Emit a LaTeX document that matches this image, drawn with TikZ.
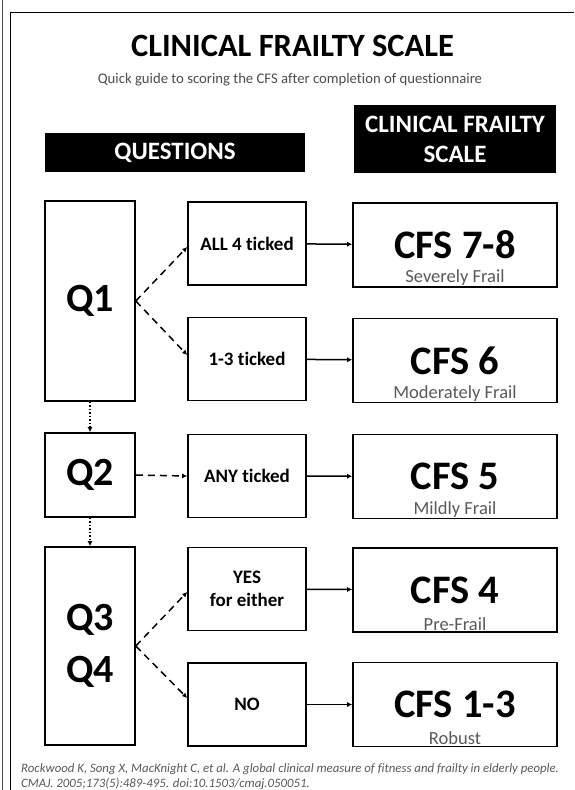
\documentclass[tikz,border=0pt]{standalone}
\usepackage{fontspec}
\setmainfont[Ligatures=NoCommon]{Carlito}
\usetikzlibrary{arrows.meta}

\tikzset{
  qbox/.style={draw, line width=1.6pt, minimum width=90pt, inner sep=0pt, align=center,
    font=\bfseries\fontsize{40}{52}\selectfont},
  tickbox/.style={draw, line width=1.6pt, minimum width=118pt, minimum height=83pt, inner sep=0pt,
    align=center, font=\bfseries\fontsize{19}{23}\selectfont},
  cfsbox/.style={draw, line width=1.6pt, minimum width=204pt, minimum height=84pt, inner sep=0pt,
    font=\bfseries\fontsize{40.5}{42}\selectfont},
  subtxt/.style={above, inner sep=2pt, text=black!65, font=\fontsize{18.5}{20}\selectfont},
  headbox/.style={fill=black, text=white, inner sep=0pt, align=center,
    font=\bfseries\fontsize{25}{30}\selectfont},
  ans/.style={->, dashed, line width=1.5pt, dash pattern=on 7pt off 5pt},
}

\begin{document}
\begin{tikzpicture}[x=1pt, y=-1pt, >={Latex[length=5pt,width=5pt]}]
      \useasboundingbox (0,0) rectangle (574,790);
      % \draw[help lines, step=50](0,0) grid (574,790);

      % page frame
      \draw[black!70, line width=1pt] (2.7,0) -- (2.7,790);
      \draw[line width=1.4pt] (10.7,790) -- (10.7,12.7) -- (574,12.7);

      % title
      \draw (292.5,45.5) node[font=\bfseries\fontsize{32.5}{34}\selectfont] (title) {CLINICAL FRAILTY SCALE};
      \draw (290,80) node[text=black!70, font=\fontsize{14.7}{16}\selectfont] (subtitle) {Quick guide to scoring the CFS after completion of questionnaire};

      % column heads
      \draw (175,152.5) node[headbox, minimum width=260pt, minimum height=39pt] (qhead) {QUESTIONS};
      \draw (455,139) node[headbox, minimum width=202pt, minimum height=68pt] (cfshead) {CLINICAL FRAILTY\\SCALE};

      % questions
      \draw (90,301) node[qbox, minimum height=200pt] (q1) {Q1};
      \draw (90,475) node[qbox, minimum height=84pt] (q2) {Q2};
      \draw (90,646) node[qbox, minimum height=198pt] (q34) {Q3\\Q4};

      % answers
      \draw (247,243.5) node[tickbox] (all4) {ALL 4 ticked};
      \draw (247,359) node[tickbox] (some) {1-3 ticked};
      \draw (247,476) node[tickbox] (any) {ANY ticked};
      \draw (247,589) node[tickbox] (yes) {YES\\for either};
      \draw (247,704.5) node[tickbox] (no) {NO};

      % scores
      \draw (455,245) node[cfsbox] (cfs78) {CFS 7-8};
      \draw (455,360.5) node[cfsbox] (cfs6) {CFS 6};
      \draw (455,476.5) node[cfsbox] (cfs5) {CFS 5};
      \draw (455,590) node[cfsbox] (cfs4) {CFS 4};
      \draw (455,704.5) node[cfsbox] (cfs13) {CFS 1-3};

      \draw (cfs78.south) node[subtxt] (cfs78sub) {Severely Frail};
      \draw (cfs6.south) node[subtxt] (cfs6sub) {Moderately Frail};
      \draw (cfs5.south) node[subtxt] (cfs5sub) {Mildly Frail};
      \draw (cfs4.south) node[subtxt] (cfs4sub) {Pre-Frail};
      \draw (cfs13.south) node[subtxt] (cfs13sub) {Robust};

      % question to answer
      \draw[ans] (q1.east) -- ([yshift=-3.5pt]all4.west);
      \draw[ans] (q1.east) -- ([yshift=4pt]some.west);
      \draw[ans] (q2.east) -- (any.west);
      \draw[ans] (q34.east) -- ([yshift=-3pt]yes.west);
      \draw[ans] (q34.east) -- ([yshift=6.5pt]no.west);

      % answer to score
      \draw[->, line width=1.5pt] (all4) -- (cfs78);
      \draw[->, line width=1.5pt] (some) -- (cfs6);
      \draw[->, line width=1.5pt] (any) -- (cfs5);
      \draw[->, line width=1.5pt] (yes) -- (cfs4);
      \draw[->, line width=1.5pt] (no) -- (cfs13);

      % next question
      \draw[->, dotted, line width=1.5pt] (q1) -- (q2);
      \draw[->, dotted, line width=1.5pt] (q2) -- (q34);

      % reference
      \draw (21,763) node[anchor=north west, inner sep=0pt, align=left, text=black!65,
        font=\itshape\fontsize{12.8}{15}\selectfont] (ref)
        {Rockwood K, Song X, MacKnight C, et al. A global clinical measure of fitness and frailty in elderly people.\\
         CMAJ. 2005;173(5):489-495. doi:10.1503/cmaj.050051.};
    \end{tikzpicture}
\end{document}
